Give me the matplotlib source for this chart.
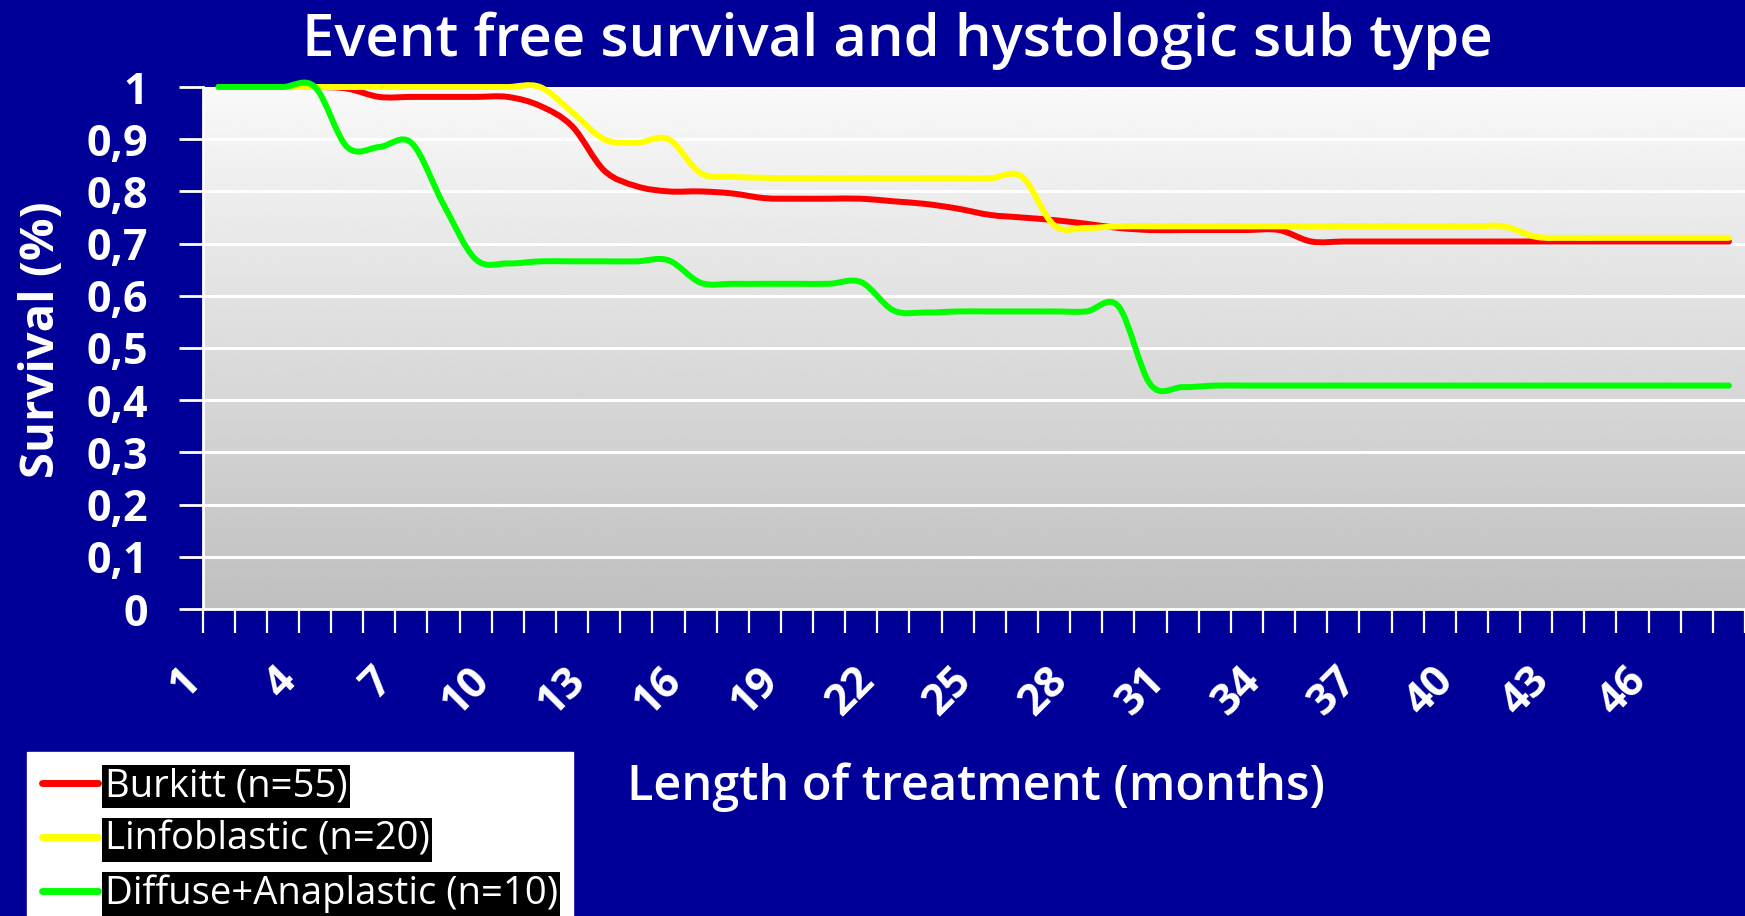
import matplotlib
matplotlib.use("Agg")
import matplotlib.pyplot as plt
import numpy as np
from matplotlib.lines import Line2D
from matplotlib.path import Path
from matplotlib.patches import PathPatch
from matplotlib.ticker import FixedLocator, FuncFormatter
import matplotlib.transforms as mtransforms

# months 1..48 (category axis)
months = list(range(1, 49))

burkitt = [1.0, 1.0, 1.0, 1.0, 0.997, 0.981, 0.981, 0.981, 0.981, 0.981,
           0.964, 0.925, 0.84, 0.81, 0.80, 0.80, 0.796, 0.787, 0.786, 0.786,
           0.786, 0.781, 0.776, 0.767, 0.755, 0.75, 0.745, 0.738, 0.73, 0.726,
           0.726, 0.726, 0.726, 0.726, 0.704, 0.704, 0.704, 0.704, 0.704, 0.704,
           0.704, 0.704, 0.704, 0.704, 0.704, 0.704, 0.704, 0.704]

linfoblastic = [1.0, 1.0, 1.0, 1.0, 1.0, 1.0, 1.0, 1.0, 1.0, 1.0,
                1.0, 0.952, 0.9, 0.893, 0.90, 0.835, 0.828, 0.826, 0.825, 0.825,
                0.825, 0.825, 0.825, 0.825, 0.825, 0.828, 0.735, 0.73, 0.733, 0.733,
                0.733, 0.733, 0.733, 0.733, 0.733, 0.733, 0.733, 0.733, 0.733, 0.733,
                0.733, 0.713, 0.711, 0.711, 0.711, 0.711, 0.711, 0.711]

diffuse = [1.0, 1.0, 1.0, 1.0, 0.885, 0.885, 0.893, 0.775, 0.67, 0.662,
           0.666, 0.666, 0.666, 0.666, 0.668, 0.625, 0.623, 0.623, 0.623, 0.623,
           0.626, 0.572, 0.568, 0.57, 0.57, 0.57, 0.57, 0.57, 0.58, 0.43,
           0.425, 0.428, 0.428, 0.428, 0.428, 0.428, 0.428, 0.428, 0.428, 0.428,
           0.428, 0.428, 0.428, 0.428, 0.428, 0.428, 0.428, 0.428]

series_labels = ["Burkitt (n=55)", "Linfoblastic (n=20)", "Diffuse+Anaplastic (n=10)"]
series_colors = ["#ff0000", "#ffff00", "#00ff00"]

BG = "#000099"
FONT = "Open Sans"


def smooth_path(xs, ys):
    """Excel-like smoothed line: cubic bezier through every data point."""
    pts = np.column_stack([xs, ys]).astype(float)
    n = len(pts)
    verts = [pts[0]]
    codes = [Path.MOVETO]
    for i in range(n - 1):
        p0 = pts[i - 1] if i > 0 else pts[i]
        p1 = pts[i]
        p2 = pts[i + 1]
        p3 = pts[i + 2] if i + 2 < n else pts[i + 1]
        c1 = p1 + (p2 - p0) / 6.0
        c2 = p2 - (p3 - p1) / 6.0
        verts += [c1, c2, p2]
        codes += [Path.CURVE4] * 3
    return Path(verts, codes)


fig = plt.figure(figsize=(17.45, 9.16), dpi=100, facecolor=BG)
ax = fig.add_axes([202.5 / 1745, 1 - 609 / 916, 1 - 202.5 / 1745, (609 - 87) / 916])

x = np.arange(len(months))
ax.set_xlim(-0.5, len(months) - 0.5)
ax.set_ylim(0, 1)

# grey gradient plot area
grad = np.linspace(0.75, 0.975, 256).reshape(-1, 1)
ax.imshow(grad, cmap="gray", vmin=0, vmax=1, aspect="auto", origin="lower",
          extent=[-0.5, len(months) - 0.5, 0, 1], zorder=0)

for v in np.arange(0.1, 1.01, 0.1):
    ax.axhline(v, color="white", lw=2.2, zorder=1)

for k, (vals, col) in enumerate(zip([burkitt, linfoblastic, diffuse], series_colors)):
    patch = PathPatch(smooth_path(x, vals), facecolor="none", edgecolor=col,
                      lw=4.3, capstyle="round", joinstyle="round",
                      zorder=3 + k, clip_on=False)
    ax.add_patch(patch)

for s in ["top", "right"]:
    ax.spines[s].set_visible(False)
for s in ["left", "bottom"]:
    ax.spines[s].set_color("white")
    ax.spines[s].set_linewidth(2)

# y axis
ax.set_yticks(np.arange(0, 1.01, 0.1))
ax.yaxis.set_major_formatter(FuncFormatter(
    lambda v, p: "0" if abs(v) < 1e-9 else ("1" if abs(v - 1) < 1e-9 else f"{v:.1f}".replace(".", ","))))
ax.tick_params(axis="y", colors="white", length=17, width=2, pad=22,
               labelsize=31)
for lab in ax.get_yticklabels():
    lab.set_fontweight("bold")
    lab.set_fontfamily(FONT)

# x axis: marks between categories, labels every 3 months
ax.set_xticks(x[::3])
ax.set_xticklabels([str(m) for m in months[::3]], rotation=45, ha="right",
                   fontsize=31, fontweight="bold", fontfamily=FONT)
ax.xaxis.set_minor_locator(FixedLocator(np.arange(-0.5, len(months), 1.0)))
ax.tick_params(axis="x", which="major", length=0, pad=36, colors="white")
ax.tick_params(axis="x", which="minor", length=17, width=1.6, colors="white")
offset = mtransforms.ScaledTranslation(-0.1, 0, fig.dpi_scale_trans)
for lab in ax.get_xticklabels():
    lab.set_transform(lab.get_transform() + offset)

fig.text(0.514, 1 - 40.5 / 916, "Event free survival and hystologic sub type",
         color="white", fontsize=41.8, fontfamily=FONT, fontweight="semibold",
         ha="center", va="center")
fig.text(976 / 1745, 1 - 787 / 916, "Length of treatment (months)",
         color="white", fontsize=35, fontfamily=FONT, fontweight="semibold",
         ha="center", va="center")
fig.text(42 / 1745, 1 - 340 / 916, "Survival (%)", color="white", fontsize=34,
         fontweight="bold", fontfamily=FONT, rotation=90, ha="center", va="center")

handles = [Line2D([], [], color=c, lw=5, solid_capstyle="round") for c in series_colors]
leg = fig.legend(handles, series_labels, loc="upper left",
                 bbox_to_anchor=(27 / 1745, 1 - 752 / 916),
                 frameon=True, fancybox=False, framealpha=1, facecolor="white",
                 edgecolor="white", prop={"family": FONT, "size": 27.5},
                 handlelength=1.45, handletextpad=0.18, labelspacing=0.41,
                 borderpad=0.4, borderaxespad=0)
for t in leg.get_texts():
    t.set_color("white")
    t.set_bbox(dict(facecolor="black", edgecolor="none", pad=2))

fig.savefig("out.png", dpi=100, facecolor=BG)
